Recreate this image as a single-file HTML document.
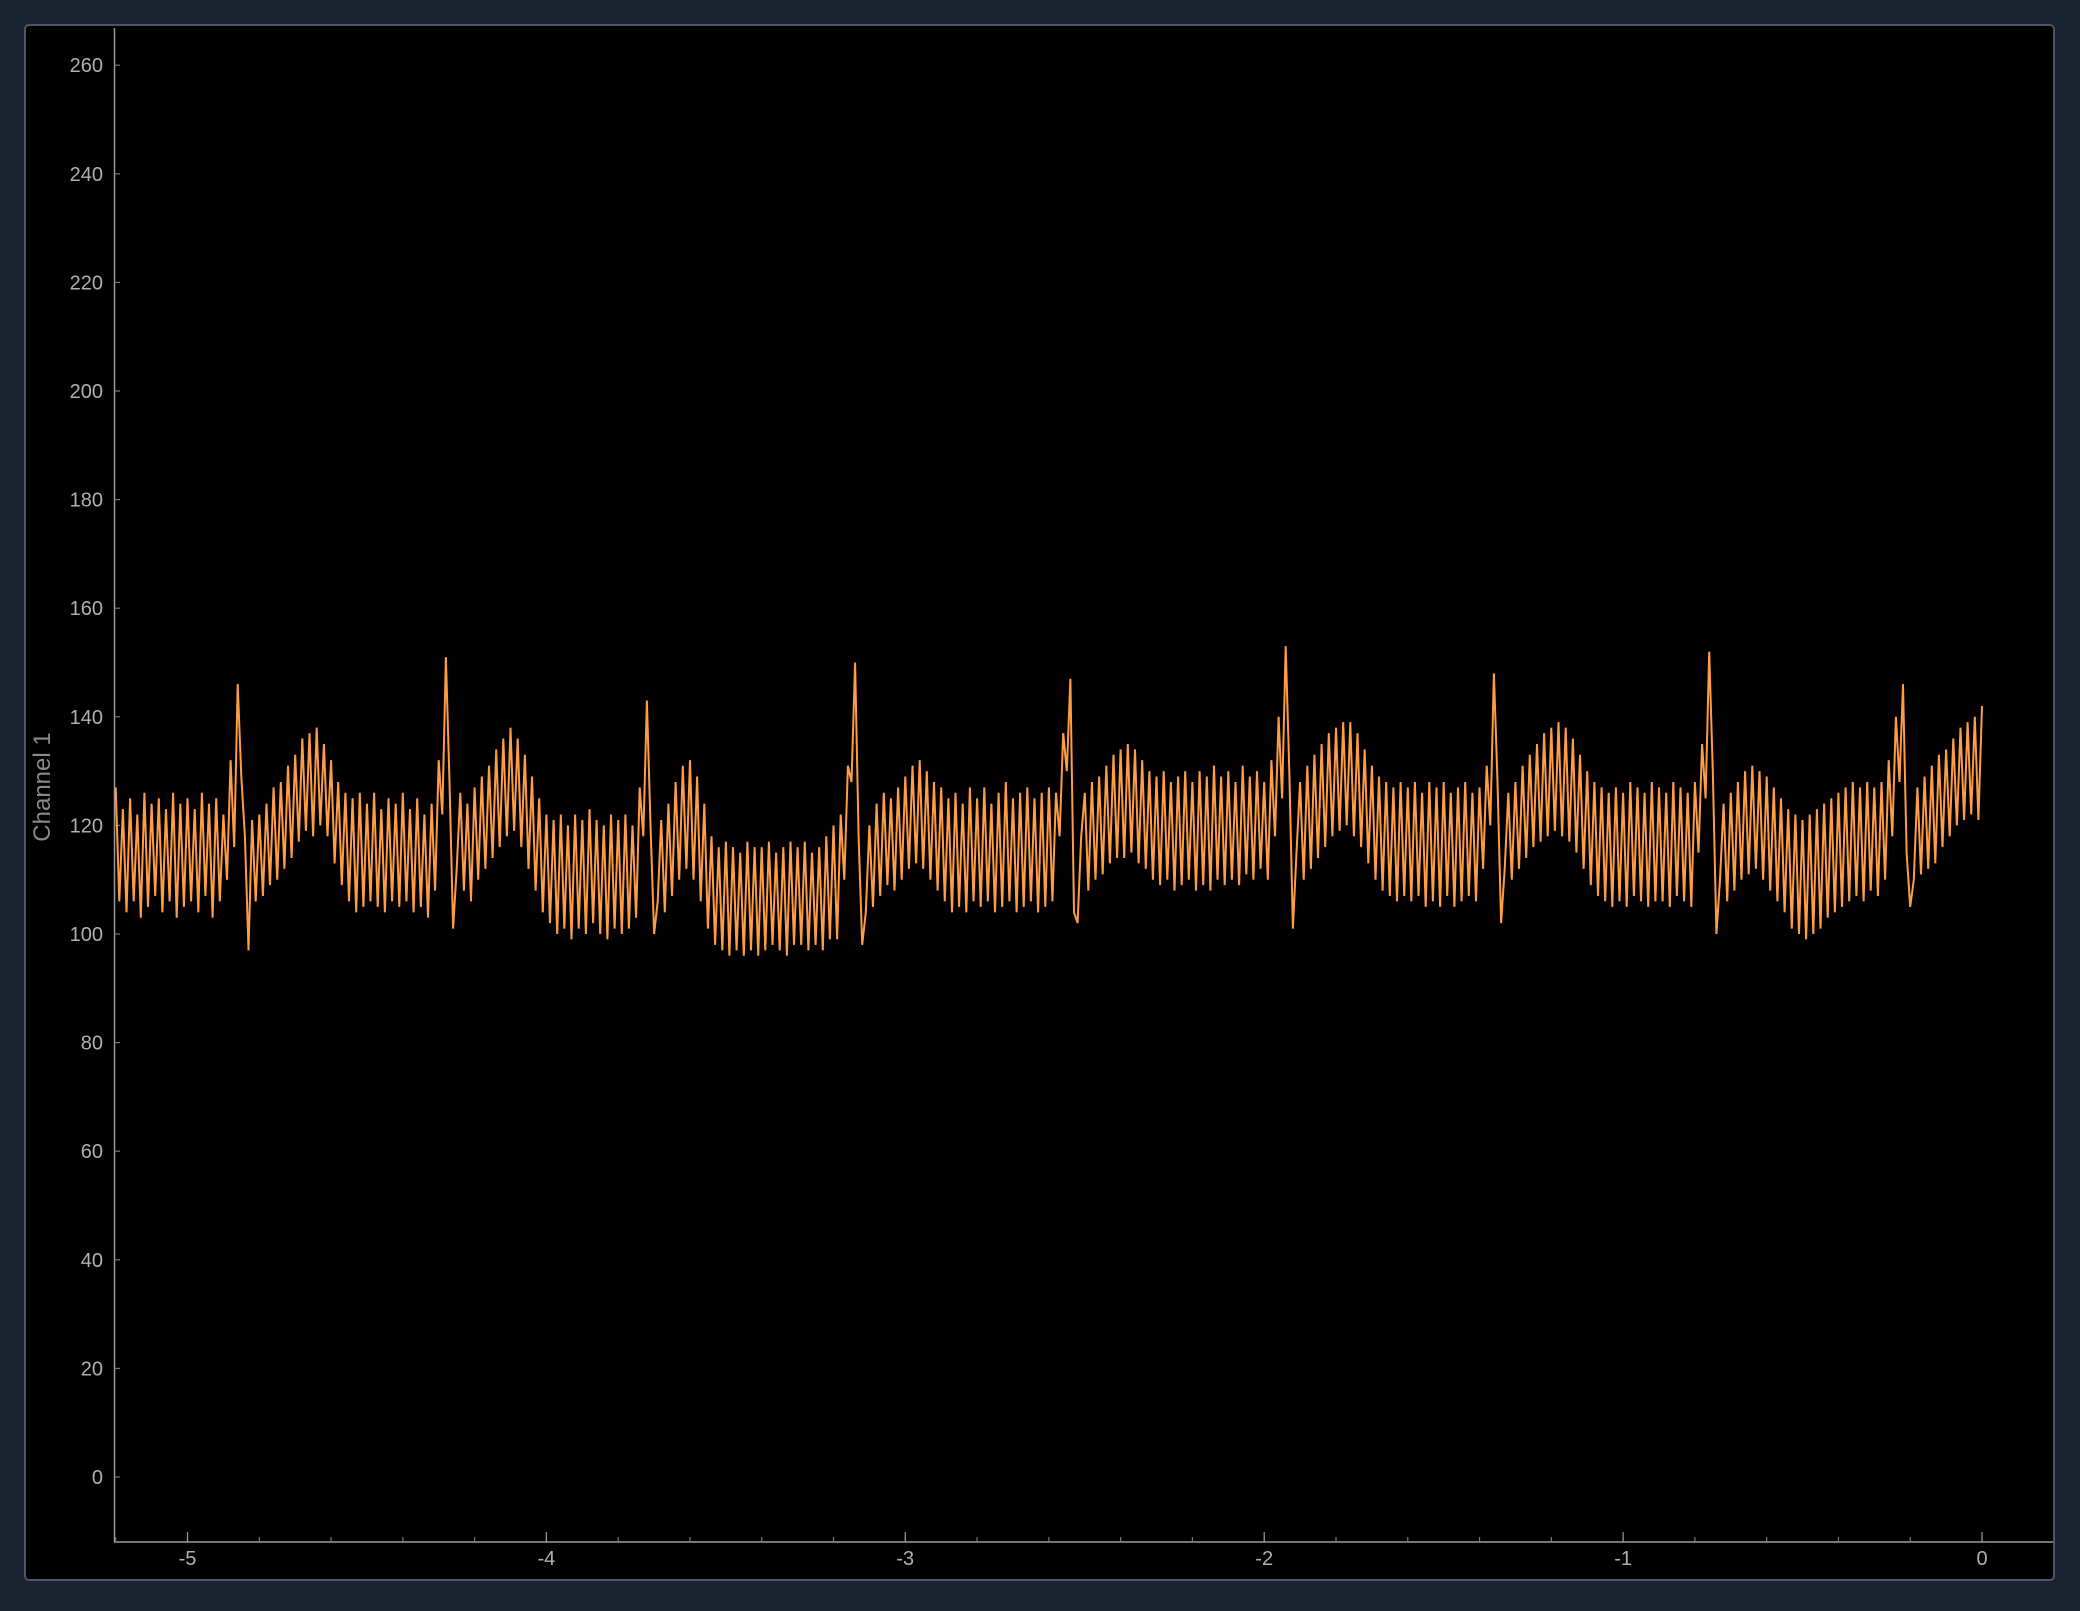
<!DOCTYPE html>
<html><head><meta charset="utf-8">
<style>
html,body{margin:0;padding:0;background:#1b2430;}
body{width:2080px;height:1606px;overflow:hidden;font-family:"Liberation Sans",sans-serif;}
</style></head>
<body>
<svg id="chart" width="2080" height="1606" xmlns="http://www.w3.org/2000/svg">
<rect x="25" y="25" width="2029" height="1555" rx="4" fill="#000" stroke="#4b5668" stroke-width="2"/>
<g id="axes"></g>
<text x="0" y="0" transform="translate(50,787) rotate(-90)" text-anchor="middle" font-size="24" fill="#8a8a8a">Channel 1</text>
<path id="trace" fill="none" stroke="#ff9d45" stroke-width="2" stroke-linejoin="miter"/>
</svg>
<script>
const tStart = -5.2;
const tStep = 0.01;
const yTicks = [0,20,40,60,80,100,120,140,160,180,200,220,240,260];
const xTicks = [-5,-4,-3,-2,-1,0];
const xTickLabels = ["-5","-4","-3","-2","-1","0"];
const xMinorTicks = [-5.2,-5.0,-4.8,-4.6,-4.4,-4.2,-4.0,-3.8,-3.6,-3.4,-3.2,-3.0,-2.8,-2.6,-2.4,-2.2,-2.0,-1.8,-1.6,-1.4,-1.2,-1.0,-0.8,-0.6,-0.4,-0.2,0];
const values = [
127,106,123,104,125,106,122,103,126,105,
124,107,125,104,123,106,126,103,124,105,
125,106,123,104,126,107,124,103,125,106,
122,110,132,116,146,129,118,97,121,106,
122,107,124,109,127,110,128,112,131,114,
133,117,136,119,137,118,138,120,135,118,
132,113,128,109,126,106,125,104,126,105,
124,106,126,105,123,104,125,106,124,105,
126,106,123,104,125,105,122,103,124,108,
132,122,151,128,101,112,126,108,124,106,
127,110,129,112,131,114,134,116,136,118,
138,119,136,116,133,112,129,108,125,104,
122,102,121,100,122,101,120,99,122,101,
121,100,123,102,121,100,120,99,122,101,
121,100,122,101,120,103,127,118,143,120,
100,106,121,104,124,107,128,110,131,112,
132,110,129,106,124,101,118,98,116,97,
117,96,116,97,115,96,117,97,116,96,
116,97,117,98,115,97,116,96,117,98,
116,98,117,97,115,98,116,97,118,99,
120,99,122,110,131,128,150,118,98,104,
120,105,124,107,126,109,125,108,127,110,
129,112,131,113,132,112,130,110,128,108,
127,106,125,104,126,105,124,104,127,106,
125,105,127,106,124,104,126,105,128,106,
125,104,126,105,127,106,125,104,126,105,
127,106,126,118,137,130,147,104,102,118,
126,108,128,110,129,111,131,113,133,114,
134,114,135,115,134,113,132,112,130,110,
129,109,130,110,128,108,129,109,130,110,
128,108,130,109,129,108,131,110,129,109,
130,110,128,109,131,111,129,110,130,112,
128,110,132,118,140,125,153,130,101,115,
128,110,131,112,133,114,135,116,137,118,
138,119,139,120,139,118,137,116,134,113,
131,110,129,108,128,107,127,106,128,107,
127,106,128,107,126,105,128,106,127,105,
128,107,126,105,127,106,128,107,126,106,
127,112,131,120,148,128,102,112,126,110,
128,112,131,114,133,116,135,117,137,118,
138,119,139,118,138,117,136,115,133,112,
130,109,128,107,127,106,126,105,127,106,
126,105,128,107,127,106,126,105,128,106,
127,106,126,105,128,107,127,106,126,105,
128,115,135,125,152,130,100,110,124,106,
126,108,128,110,130,111,131,112,130,110,
129,108,127,106,125,104,123,101,122,100,
121,99,122,100,123,101,124,103,125,104,
126,105,127,106,128,107,127,106,128,108,
127,107,128,110,132,118,140,128,146,115,
105,110,127,111,129,112,131,113,133,116,
134,118,136,120,138,121,139,122,140,121,
142];

const X0 = 1982, XPU = 358.9;
const Y0 = 1477, YPU = 5.43;
function xs(t){return X0 + t*XPU;}
function ys(v){return Y0 - v*YPU;}
const NS='http://www.w3.org/2000/svg';
const axes=document.getElementById('axes');
function mk(tag,attrs){const e=document.createElementNS(NS,tag);for(const k in attrs)e.setAttribute(k,attrs[k]);axes.appendChild(e);return e;}

let yl=mk('line',{x1:114.5,y1:28,x2:114.5,y2:1542,stroke:'#9a9a9a','stroke-width':1.5});


let xl=mk('line',{x1:114,y1:1542,x2:2053,y2:1542,stroke:'#9a9a9a','stroke-width':1.5});



yTicks.forEach(v=>{
  const y=ys(v);
  const tk=mk('line',{x1:114.5,y1:y,x2:120,y2:y,stroke:'#777','stroke-width':1.2});
  
  
  const tx=mk('text',{x:103,y:y+7,'text-anchor':'end','font-size':20,fill:'#b0b0b0'});
  tx.textContent=String(v);
  
  
});
xMinorTicks.forEach(t=>{
  const x=xs(t);
  const tk=mk('line',{x1:x,y1:1542,x2:x,y2:1537,stroke:'#777','stroke-width':1.2});
  
  
});
xTicks.forEach((t,i)=>{
  const x=xs(t);
  const tk=mk('line',{x1:x,y1:1542,x2:x,y2:1532,stroke:'#999','stroke-width':1.2});
  
  
  const tx=mk('text',{x:x,y:1565,'text-anchor':'middle','font-size':20,fill:'#b0b0b0'});
  tx.textContent=xTickLabels[i];
  
  
});

let d='';
values.forEach((v,i)=>{
  const t=tStart+i*tStep;
  d+=(i?'L':'M')+xs(t).toFixed(1)+','+ys(v).toFixed(1);
});
document.getElementById('trace').setAttribute('d',d);
</script>
</body></html>
